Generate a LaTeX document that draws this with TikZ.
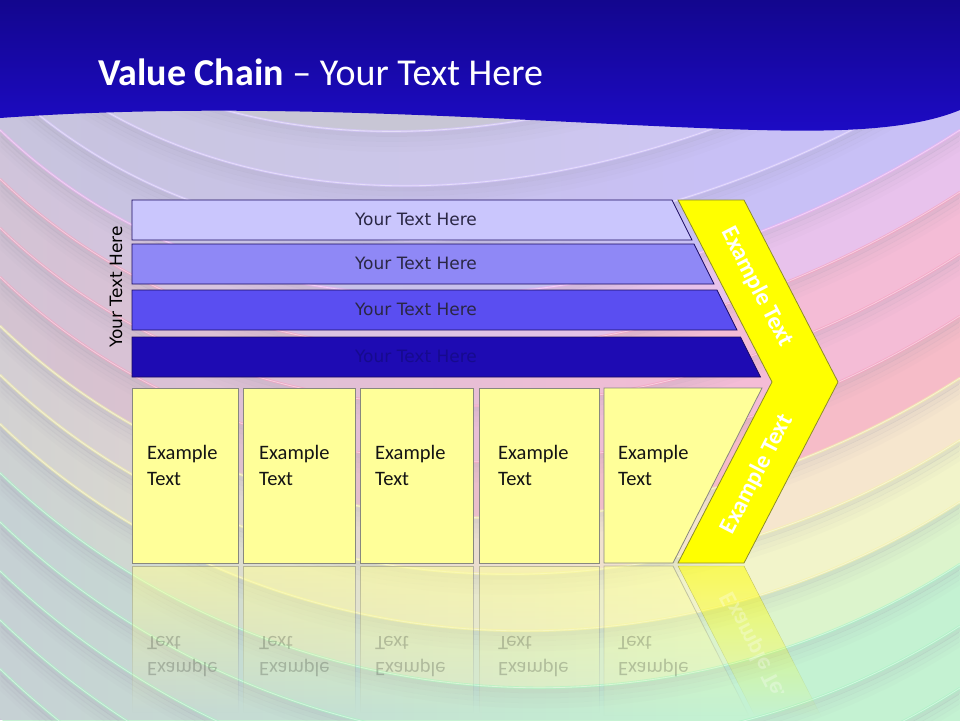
\documentclass[tikz,border=0pt]{standalone}
\usepackage{fontspec}
\setmainfont{Carlito}
\newfontfamily\barfont{DejaVu Sans}
\usetikzlibrary{fadings}

\definecolor{titletop}{HTML}{13068E}
\definecolor{titlebot}{HTML}{1D0BC6}
\definecolor{bgbase}{HTML}{C8C6D5}
\definecolor{shadegray}{HTML}{9C98AC}
\definecolor{lavA}{HTML}{CEC6F4}
\definecolor{lavB}{HTML}{C8C0F6}
\definecolor{lilac}{HTML}{E8C2EC}
\definecolor{pinkA}{HTML}{F4BCD6}
\definecolor{pinkB}{HTML}{F6BCC8}
\definecolor{cream}{HTML}{F6E6CE}
\definecolor{yellow}{HTML}{F2F4CA}
\definecolor{lime}{HTML}{DCF4CC}
\definecolor{green}{HTML}{C4F2D2}
\definecolor{lavG}{HTML}{D8C8FF}
\definecolor{lilacG}{HTML}{F0B0F4}
\definecolor{pinkG}{HTML}{F6A0C0}
\definecolor{yelG}{HTML}{F6F2A8}
\definecolor{greenG}{HTML}{A8F4C4}
\definecolor{barA}{HTML}{CAC6FD}
\definecolor{barB}{HTML}{8F88F6}
\definecolor{barC}{HTML}{5A4EF1}
\definecolor{barD}{HTML}{1E0BB3}
\definecolor{txtA}{HTML}{2A2744}
\definecolor{txtD}{HTML}{160A8E}
\definecolor{barline}{HTML}{1A0A60}
\definecolor{boxfill}{HTML}{FFFF99}
\definecolor{boxline}{HTML}{88887E}
\definecolor{chevfill}{HTML}{FFFF00}
\definecolor{chevline}{HTML}{8C8C2A}

\tikzfading[name=reflfade, top color=transparent!45, bottom color=transparent!100]
\tikzfading[name=leftgray, left color=transparent!25, right color=transparent!100]

\begin{document}
\begin{tikzpicture}[x=1pt, y=-1pt,
    bar/.style={draw=barline, line width=0.8pt},
    bartxt/.style={font=\barfont\fontsize{17}{20}\selectfont, inner sep=0pt},
    cell/.style={draw=boxline, fill=boxfill, line width=0.8pt},
    celltxt/.style={font=\fontsize{20.5}{26}\selectfont, align=left, anchor=north west, inner sep=0pt},
    chevtxt/.style={font=\bfseries\fontsize{24}{28}\selectfont, text=white, inner sep=0pt}]
    \useasboundingbox (0,0) rectangle (960,720);

    % Background waves
    \fill[bgbase] (0,0) rectangle (960,720);
    \foreach \k/\col in {-3/lavA, -2/lavB, -1/lavB, 0/lilac, 1/pinkA, 2/pinkA, 3/pinkB, 4/cream,
                         5/yellow, 6/lime, 7/green, 8/green, 9/green, 10/green, 11/green} {
        \pgfmathsetmacro\la{130+49*\k}
        \pgfmathsetmacro\ra{130+62*\k}
        \pgfmathsetmacro\lb{\la+49}
        \pgfmathsetmacro\rb{\ra+62}
        \fill[\col] (0,\la) .. controls (250,\la+240) and (650,\ra+200) .. (960,\ra)
            -- (960,\rb) .. controls (650,\rb+200) and (250,\lb+240) .. (0,\lb) -- cycle;
    }
    \fill[bgbase, path fading=leftgray] (0,100) rectangle (720,720);
    \foreach \k/\gl in {-3/lavG, -2/lavG, -1/lavG, 0/lilacG, 1/pinkG, 2/pinkG, 3/pinkG, 4/yelG,
                        5/yelG, 6/yelG, 7/greenG, 8/greenG, 9/greenG, 10/greenG, 11/greenG} {
        \pgfmathsetmacro\la{130+49*\k}
        \pgfmathsetmacro\ra{130+62*\k}
        \foreach \d/\op in {3/0.20, 8/0.13, 13/0.08, 18/0.04}
            \draw[shadegray, line width=5pt, opacity=\op]
                (0,\la+\d) .. controls (250,\la+240+\d) and (650,\ra+200+\d) .. (960,\ra+\d);
        \draw[\gl, line width=2.5pt, opacity=0.65] (0,\la) .. controls (250,\la+240) and (650,\ra+200) .. (960,\ra);
        \draw[white, line width=0.8pt, opacity=0.45] (0,\la) .. controls (250,\la+240) and (650,\ra+200) .. (960,\ra);
    }

    % Title bar
    \shade[top color=titletop, bottom color=titlebot] (0,0) -- (960,0) -- (960,110)
        .. controls (900,135) and (800,132) .. (700,128) .. controls (500,120) and (250,100) .. (0,118) -- cycle;
    \node[anchor=base west, text=white, inner sep=0pt, font=\fontsize{38}{45}\selectfont] (title) at (98,85)
        {\textbf{Value Chain} -- Your Text Here};

    % Reflections
    \foreach \xa/\xb in {132/238, 243/355, 360/473, 479/599}
        \path[cell, path fading=reflfade] (\xa,566) rectangle (\xb,712);
    \path[cell, path fading=reflfade] (604,566) -- (673,566) -- (749,716) -- (604,716) -- cycle;
    \path[fill=chevfill, draw=chevline, path fading=reflfade] (678,566) -- (744,566) -- (821,716) -- (755,716) -- cycle;
    \foreach \i/\xt in {1/147, 2/259, 3/375, 4/498, 5/618}
        \node[celltxt, yscale=-1, text=black, text opacity=0.2] (refl\i) at (\xt,677) {Example\\Text};
    \begin{scope}
        \clip (660,566) rectangle (900,692);
        \node[chevtxt, yscale=-1, rotate=62.7, text opacity=0.3] (reflchev) at (757,652) {Example Text};
    \end{scope}

    % Support bars
    \foreach \i/\ytop/\col/\tcol in {1/200/barA/txtA, 2/244/barB/txtA, 3/290/barC/txtA, 4/337/barD/txtD} {
        \pgfmathsetmacro\xr{672+0.5*(\ytop-200)}
        \draw[bar, fill=\col] (132,\ytop) -- (\xr,\ytop) -- (\xr+20,\ytop+40) -- (132,\ytop+40) -- cycle;
        \node[bartxt, text=\tcol] (bar\i) at (416,\ytop+19) {Your Text Here};
    }
    \node[bartxt, rotate=90, text=black] (side) at (116,287) {Your Text Here};

    % Primary cells
    \foreach \i/\xa/\xb in {1/132/238, 2/243/355, 3/360/473, 4/479/599}
        \draw[cell] (\xa,388) rectangle (\xb,563);
    \draw[cell] (604,388) -- (762,388) -- (673,563) -- (604,563) -- cycle;
    \foreach \i/\xt in {1/147, 2/259, 3/375, 4/498, 5/618}
        \node[celltxt, text=black!92] (cell\i) at (\xt,445) {Example\\Text};

    % Margin chevron
    \draw[fill=chevfill, draw=chevline, line width=0.8pt] (678,200) -- (744,200) -- (838,382)
        -- (744,563) -- (678,563) -- (772,382) -- cycle;
    \node[chevtxt, rotate=-62.7] (chevup) at (757,287) {Example Text};
    \node[chevtxt, rotate=62.7] (chevdown) at (757,474) {Example Text};
\end{tikzpicture}
\end{document}
